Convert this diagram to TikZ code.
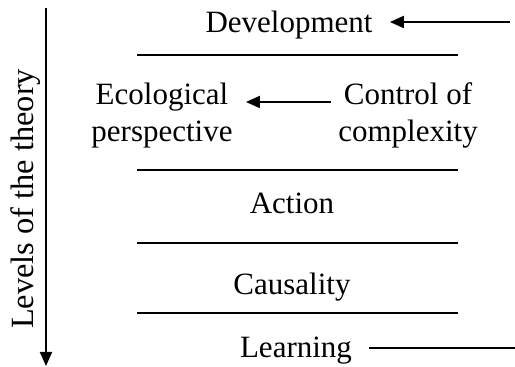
\documentclass[tikz,border=0pt]{standalone}
\usepackage{fontspec}
\setmainfont{Liberation Serif}
\usetikzlibrary{arrows.meta}
\begin{document}
\begin{tikzpicture}[x=0.5pt, y=-0.5pt, every node/.style={font=\fontsize{15.5}{18.5}\selectfont, inner sep=0pt},
    level/.style={line width=1pt, black},
    pointer/.style={line width=1pt, black, -{Triangle[length=7pt, width=6pt]}}]
    \useasboundingbox (0,0) rectangle (515,367);

    % separators between the levels
    \draw[level] (137,55) -- (458,55);
    \draw[level] (137,170) -- (458,170);
    \draw[level] (137,243) -- (458,243);
    \draw[level] (137,313) -- (458,313);

    \node[anchor=base] (dev) at (289,33) {Development};
    \node[align=center] (eco) at (162,116) {Ecological\\perspective};
    \node[align=center] (ctrl) at (408,115) {Control of\\complexity};
    \node[anchor=base] (act) at (292,214) {Action};
    \node[anchor=base] (caus) at (292,295) {Causality};
    \node[anchor=base] (learn) at (296,358) {Learning};
    \node[anchor=base, rotate=90, font=\fontsize{16.2}{19}\selectfont] (axis) at (33,199) {Levels of the theory};

    \coordinate (devin) at (510,22);
    \coordinate (learnout) at (515,348);
    \coordinate (axtop) at (46,8);
    \coordinate (axbot) at (46,366);

    \draw[pointer, shorten >=8.5pt] (devin) -- (devin -| dev.east);
    \draw[pointer, shorten <=3.5pt, shorten >=6.5pt] ([yshift=6.5pt]ctrl.west) -- ([yshift=6.5pt]ctrl.west -| eco.east);
    \draw[level, shorten <=8.5pt] (learnout -| learn.east) -- (learnout);
    \draw[pointer] (axtop) -- (axbot);
\end{tikzpicture}
\end{document}
